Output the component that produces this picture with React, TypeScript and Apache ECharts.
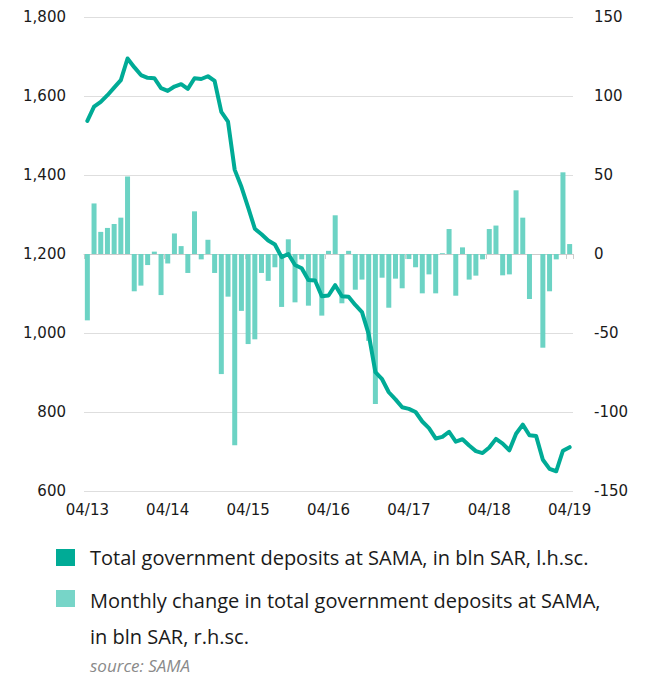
import React, { useEffect, useRef } from "react";
import * as echarts from "echarts";

const months = [
  "04/13","05/13","06/13","07/13","08/13","09/13","10/13","11/13","12/13","01/14","02/14","03/14",
  "04/14","05/14","06/14","07/14","08/14","09/14","10/14","11/14","12/14","01/15","02/15","03/15",
  "04/15","05/15","06/15","07/15","08/15","09/15","10/15","11/15","12/15","01/16","02/16","03/16",
  "04/16","05/16","06/16","07/16","08/16","09/16","10/16","11/16","12/16","01/17","02/17","03/17",
  "04/17","05/17","06/17","07/17","08/17","09/17","10/17","11/17","12/17","01/18","02/18","03/18",
  "04/18","05/18","06/18","07/18","08/18","09/18","10/18","11/18","12/18","01/19","02/19","03/19",
  "04/19",
];

const totalDeposits = [
  1537, 1573, 1585, 1602, 1621, 1640, 1695, 1673, 1653, 1646, 1645, 1620,
  1613, 1624, 1630, 1618, 1645, 1643, 1650, 1638, 1560, 1535, 1413, 1370,
  1318, 1264, 1250, 1234, 1224, 1192, 1200, 1172, 1164, 1134, 1133, 1093,
  1095, 1121, 1093, 1092, 1071, 1053, 997, 901, 883, 850, 832, 812,
  808, 800, 776, 759, 733, 737, 750, 725, 731, 715, 701, 696,
  710, 732, 720, 703, 745, 768, 741, 739, 679, 656, 650, 702,
  711,
];

const monthlyChange = [
  -42, 32, 14, 16.5, 19, 23, 49, -23.6, -20, -7, 1.5, -26,
  -6, 13, 5, -12, 27, -3.4, 9, -12, -76, -27, -121, -36,
  -57, -54, -12, -17, -8.4, -33.5, 9.3, -30.6, -3.4, -32.7, -17, -39,
  2, 24.5, -31.2, 2, -22.6, -16.2, -55, -95, -15, -34, -15.6, -21.7,
  -3.2, -8.4, -24.9, -12.9, -24.9, 0.5, 15.8, -26.4, 4.2, -16.2, -13.7, -3.4,
  15.8, 18, -13.5, -12.9, 40.3, 23, -28.5, 0, -59.3, -23.6, -3.4, 51.7,
  6.3,
];

const leftTicks = { min: 600, max: 1800, interval: 200 };
const rightTicks = { min: -150, max: 150, interval: 50 };

const LINE_COLOR = "#00ab96";
const BAR_COLOR = "#6cd3c4";
const BAR_LEGEND = "#77d5c8";
const TEXT = "#1a1a1a";
const AXIS_FONT = "'DejaVu Sans'";
const LEGEND_FONT = "'Open Sans'";

export default function App() {
  const ref = useRef<HTMLDivElement>(null);

  useEffect(() => {
    if (!ref.current) return;
    const chart = echarts.init(ref.current, undefined, { renderer: "svg" });
    chart.setOption({
      animation: false,
      backgroundColor: "#ffffff",
      grid: { left: 84, right: 72, top: 17, bottom: 185, containLabel: false },
      xAxis: {
        type: "category",
        data: months,
        boundaryGap: true,
        axisLine: { show: true, lineStyle: { color: "#cccccc", width: 1 } },
        axisTick: { show: true, interval: 11, length: 5, lineStyle: { color: "#cccccc" } },
        axisLabel: {
          interval: 11,
          margin: 11,
          color: TEXT,
          fontSize: 15,
          fontFamily: AXIS_FONT,
        },
        splitLine: { show: false },
      },
      yAxis: [
        {
          type: "value",
          min: leftTicks.min,
          max: leftTicks.max,
          interval: leftTicks.interval,
          axisLine: { show: false },
          axisTick: { show: false },
          axisLabel: {
            margin: 18,
            color: TEXT,
            fontSize: 15,
            fontFamily: AXIS_FONT,
            formatter: (v: number) => v.toLocaleString("en-US"),
          },
          splitLine: { show: true, lineStyle: { color: "#dedede", width: 1 } },
        },
        {
          type: "value",
          min: rightTicks.min,
          max: rightTicks.max,
          interval: rightTicks.interval,
          position: "right",
          axisLine: { show: false },
          axisTick: { show: false },
          axisLabel: {
            margin: 21,
            color: TEXT,
            fontSize: 15,
            fontFamily: AXIS_FONT,
          },
          splitLine: { show: false },
        },
      ],
      series: [
        {
          name: "Monthly change",
          type: "bar",
          yAxisIndex: 1,
          data: monthlyChange,
          barWidth: 5,
          itemStyle: { color: BAR_COLOR },
          z: 2,
        },
        {
          name: "Total deposits",
          type: "line",
          yAxisIndex: 0,
          data: totalDeposits,
          symbol: "none",
          lineStyle: { color: LINE_COLOR, width: 4, join: "round", cap: "round" },
          itemStyle: { color: LINE_COLOR },
          z: 3,
        },
      ],
      graphic: [
        { type: "rect", left: 56, top: 549, shape: { width: 19, height: 17 }, style: { fill: LINE_COLOR } },
        {
          type: "text",
          x: 90,
          y: 557,
          style: {
            text: "Total government deposits at SAMA, in bln SAR, l.h.sc.",
            fill: TEXT,
            font: `20px ${LEGEND_FONT}`,
            verticalAlign: "middle",
          },
        },
        { type: "rect", left: 56, top: 590, shape: { width: 19, height: 17 }, style: { fill: BAR_LEGEND } },
        {
          type: "text",
          x: 90,
          y: 600,
          style: {
            text: "Monthly change in total government deposits at SAMA,",
            fill: TEXT,
            font: `20px ${LEGEND_FONT}`,
            verticalAlign: "middle",
          },
        },
        {
          type: "text",
          x: 90,
          y: 636,
          style: {
            text: "in bln SAR, r.h.sc.",
            fill: TEXT,
            font: `20px ${LEGEND_FONT}`,
            verticalAlign: "middle",
          },
        },
        {
          type: "text",
          x: 90,
          y: 665,
          style: {
            text: "source: SAMA",
            fill: "#8a8a8a",
            font: `italic 17px ${LEGEND_FONT}`,
            verticalAlign: "middle",
          },
        },
      ],
    });
    return () => chart.dispose();
  }, []);

  return (
    <div
      ref={ref}
      style={{ position: "absolute", left: 0, top: 0, width: 645, height: 676 }}
    />
  );
}
